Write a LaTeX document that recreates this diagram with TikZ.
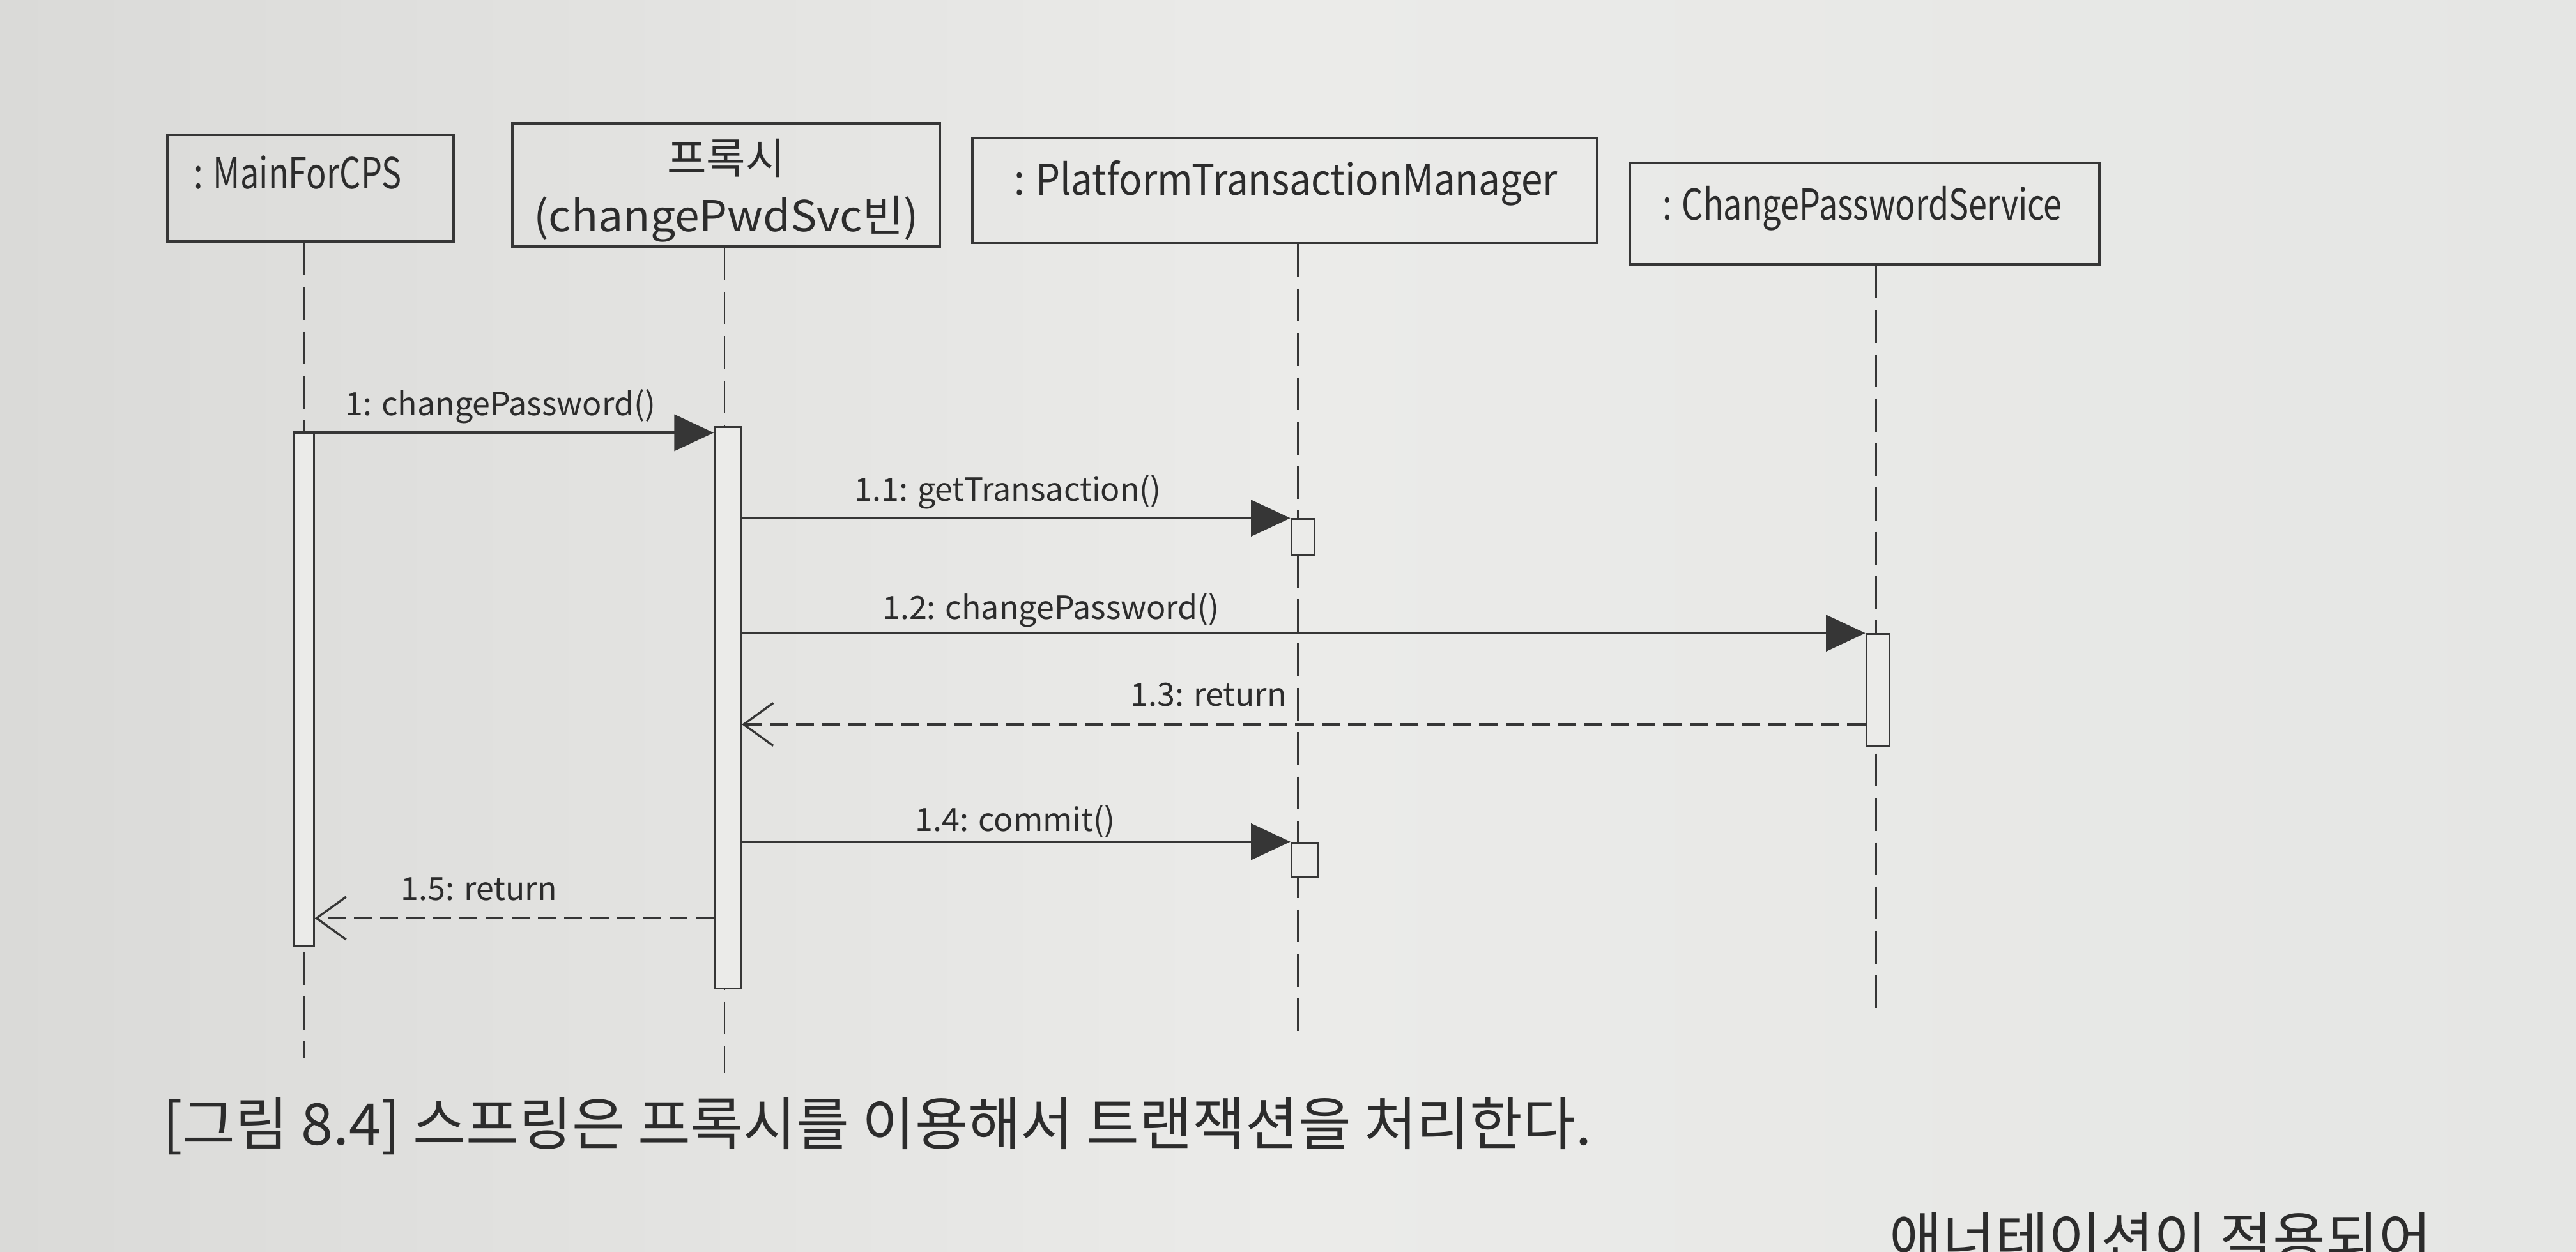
\documentclass[tikz,border=0pt]{standalone}
\usepackage{fontspec}
\usepackage{graphicx}
\setmainfont{Noto Sans CJK KR}
\usetikzlibrary{arrows.meta,calc}
\definecolor{ink}{HTML}{363636}
\definecolor{txt}{HTML}{2C2C2C}
\definecolor{paperL}{HTML}{DADAD8}
\definecolor{paperM}{HTML}{EBEBE9}
\definecolor{paperR}{HTML}{E5E6E4}
% horizontally squeezed text
\newcommand{\hsq}[2]{\scalebox{#1}[1]{#2}}
\begin{document}
\begin{tikzpicture}[x=1pt,y=-1pt,
  objbox/.style={draw=ink,line width=1.5pt,rectangle,inner sep=0pt},
  objtext/.style={font=\fontsize{26}{30}\selectfont,text=txt,inner sep=0pt},
  life/.style={draw=ink,line width=0.9pt,dash pattern=on 20pt off 7pt},
  actbox/.style={draw=ink,line width=1.1pt,fill=paperM,rectangle,inner sep=0pt},
  msg/.style={draw=ink,line width=1.7pt,-{Triangle[length=24pt,width=22pt]}},
  ret/.style={draw=ink,line width=1.5pt,dash pattern=on 11pt off 5pt,
    -{Straight Barb[length=18pt,width=26pt,line width=1.3pt]}},
  lbl/.style={font=\fontsize{19.5}{22}\selectfont,text=txt,inner sep=0pt,anchor=base west},
  caption/.style={font=\fontsize{35}{40}\selectfont,text=txt,inner sep=0pt,anchor=base west}]

% paper
\useasboundingbox (0,0) rectangle (1568,762);
\shade[left color=paperL,right color=paperR,middle color=paperM] (0,0) rectangle (1568,762);

% object boxes
\node[objbox,minimum width=174pt,minimum height=65pt] (main) at (189,114.5) {};
\node[objbox,minimum width=260pt,minimum height=75pt] (proxy) at (442,112.5) {};
\node[objbox,minimum width=380pt,minimum height=64pt] (ptm) at (782,116) {};
\node[objbox,minimum width=286pt,minimum height=62pt] (cps) at (1135,130) {};

\node[objtext,anchor=base west] (mainT) at (118,115) {\hsq{0.78}{: MainForCPS}};
\node[objtext,anchor=base] (proxyT1) at (442,106) {프록시};
\node[objtext,anchor=base] (proxyT2) at (442,141) {\hsq{1.04}{(changePwdSvc빈)}};
\node[objtext,anchor=base west] (ptmT) at (617,119) {\hsq{0.9}{: PlatformTransactionManager}};
\node[objtext,anchor=base west] (cpsT) at (1012,134) {\hsq{0.78}{: ChangePasswordService}};

% lifeline ends
\coordinate (mainEnd) at (185,644);
\coordinate (proxyEnd) at (441,653);
\coordinate (ptmEnd) at (790,634);
\coordinate (cpsEnd) at (1142,615);

\draw[life] (main.south -| mainEnd) -- (mainEnd);
\draw[life] (proxy.south -| proxyEnd) -- (proxyEnd);
\draw[life] (ptm.south -| ptmEnd) -- (ptmEnd);
\draw[life] (cps.south -| cpsEnd) -- (cpsEnd);

% activations
\node[actbox,minimum width=12pt,minimum height=312pt] (mainAct) at (185,420) {};
\node[actbox,minimum width=16pt,minimum height=342pt] (pxAct) at (443,431) {};
\node[actbox,minimum width=14pt,minimum height=22pt] (ptmA1) at (793,327) {};
\node[actbox,minimum width=14pt,minimum height=68pt] (cpsA) at (1143,420) {};
\node[actbox,minimum width=16pt,minimum height=21pt] (ptmA2) at (794,523.5) {};

% return levels
\coordinate (r13) at (1143,441);
\coordinate (r15) at (443,559);

% messages
\draw[msg] (mainAct.north west) -- (pxAct.west |- mainAct.north);
\draw[msg] (pxAct.east |- ptmA1.north) -- (ptmA1.north west);
\draw[msg] (pxAct.east |- cpsA.north) -- (cpsA.north west);
\draw[ret] (cpsA.west |- r13) -- (pxAct.east |- r13);
\draw[msg] (pxAct.east |- ptmA2.north) -- (ptmA2.north west);
\draw[ret] (pxAct.west |- r15) -- (mainAct.east |- r15);

% message labels
\node[lbl] (l1) at (210,253) {1: changePassword()};
\node[lbl] (l11) at (520,305) {1.1: getTransaction()};
\node[lbl] (l12) at (537,377) {1.2: changePassword()};
\node[lbl] (l13) at (688,430) {1.3: return};
\node[lbl] (l14) at (557,506) {1.4: commit()};
\node[lbl] (l15) at (244,548) {1.5: return};

% caption and the next line of body text
\node[caption] (cap) at (99,697) {[그림 8.4] 스프링은 프록시를 이용해서 트랜잭션을 처리한다.};
\begin{scope}
\clip (0,0) rectangle (1568,762);
\node[caption] (body) at (1150,767) {애너테이션이 적용되어};
\end{scope}
\end{tikzpicture}
\end{document}
